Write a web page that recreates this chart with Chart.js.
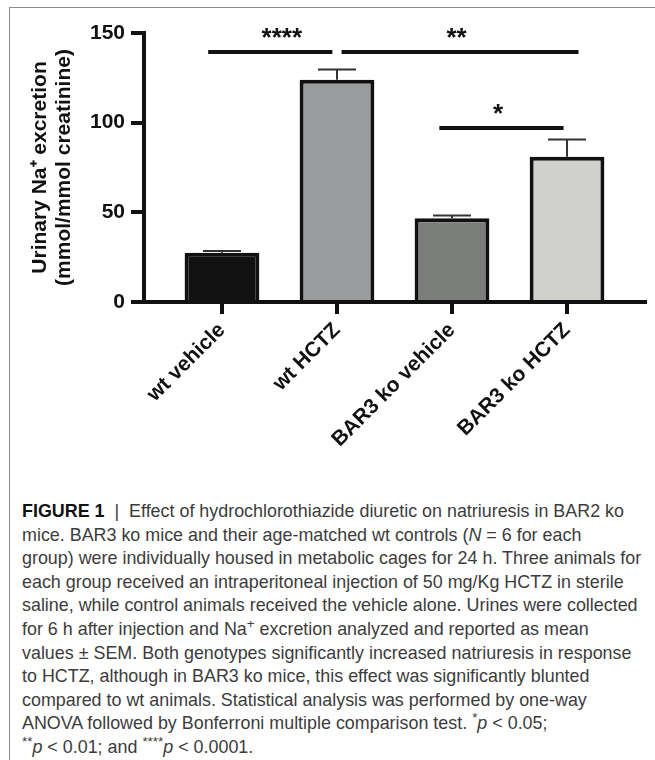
<!DOCTYPE html>
<html>
<head>
<meta charset="utf-8">
<script src="https://cdn.jsdelivr.net/npm/chart.js@4.4.1/dist/chart.umd.min.js"></script>
<style>
  body {
    margin: 0;
    width: 655px;
    height: 760px;
    background: #fff;
    position: relative;
    overflow: hidden;
  }
  .frame {
    position: absolute;
    left: 9px;
    top: 7px;
    right: 0;
    bottom: 0;
    border-left: 1px solid #8a8a8a;
    border-top: 1px solid #8a8a8a;
  }
  .chart-box {
    position: absolute;
    left: 0;
    top: 0;
    width: 655px;
    height: 480px;
  }
  .caption {
    position: absolute;
    left: 22px;
    top: 500px;
    font-family: "Liberation Sans", Arial, sans-serif;
    font-size: 17.9px;
    line-height: 23.6px;
    color: #3c3c3c;
    white-space: nowrap;
  }
  .caption b {
    color: #111;
  }
  .caption sup {
    font-size: 0.75em;
    line-height: 0;
  }
</style>
</head>
<body>
<div class="frame"></div>
<div class="chart-box"><canvas id="natri-chart" width="655" height="480"></canvas></div>
<div class="caption">
<b>FIGURE 1</b> &nbsp;|&nbsp; Effect of hydrochlorothiazide diuretic on natriuresis in BAR2 ko<br>
mice. BAR3 ko mice and their age-matched wt controls (<i>N</i> = 6 for each<br>
group) were individually housed in metabolic cages for 24 h. Three animals for<br>
each group received an intraperitoneal injection of 50 mg/Kg HCTZ in sterile<br>
saline, while control animals received the vehicle alone. Urines were collected<br>
for 6 h after injection and Na<sup>+</sup> excretion analyzed and reported as mean<br>
values ± SEM. Both genotypes significantly increased natriuresis in response<br>
to HCTZ, although in BAR3 ko mice, this effect was significantly blunted<br>
compared to wt animals. Statistical analysis was performed by one-way<br>
ANOVA followed by Bonferroni multiple comparison test. <sup>*</sup><i>p</i> &lt; 0.05;<br>
<sup>**</sup><i>p</i> &lt; 0.01; and <sup>****</sup><i>p</i> &lt; 0.0001.
</div>

<script>
// ================== data ======================
const groups = ["wt vehicle", "wt HCTZ", "BAR3 ko vehicle", "BAR3 ko HCTZ"];
const means = [27.5, 124, 46.7, 81];
const sem = [1, 5.6, 1.6, 9.6];
const barColors = ["#111111", "#9b9c9e", "#7b7d7b", "#d0d1cd"];
const yTicks = [0, 50, 100, 150];

// significance bars: start group, end group, height, label, label position
const sigFrom = [-0.12, 1.04, 1.89];
const sigTo = [0.96, 3.1, 2.97];
const sigY = [139.4, 139.4, 97];
const sigText = ["****", "**", "*"];
const sigTextX = [0.52, 2.04, 2.4];

const canvas = document.getElementById("natri-chart");
const boldFont = "'Liberation Sans', Arial, sans-serif";

// ================== error bars + stars ======================
const extrasPlugin = {
  id: "extras",
  afterDatasetsDraw(chart) {
    const ctx = chart.ctx;
    const xs = chart.scales.x;
    const ys = chart.scales.y;
    ctx.save();
    // SEM whiskers (upper only)
    ctx.strokeStyle = "#333";
    ctx.lineWidth = 2;
    means.forEach((m, i) => {
      const x = xs.getPixelForValue(i);
      const yBar = ys.getPixelForValue(m);
      const yTop = ys.getPixelForValue(m + sem[i]);
      ctx.beginPath();
      ctx.moveTo(x, yBar);
      ctx.lineTo(x, yTop);
      ctx.moveTo(x - 19, yTop);
      ctx.lineTo(x + 19, yTop);
      ctx.stroke();
    });
    // significance lines
    ctx.strokeStyle = "#111";
    ctx.lineWidth = 4;
    ctx.fillStyle = "#111";
    ctx.font = "bold 26px " + boldFont;
    ctx.textAlign = "center";
    ctx.textBaseline = "alphabetic";
    sigY.forEach((v, i) => {
      const y = ys.getPixelForValue(v);
      ctx.beginPath();
      ctx.moveTo(xs.getPixelForValue(sigFrom[i]), y);
      ctx.lineTo(xs.getPixelForValue(sigTo[i]), y);
      ctx.stroke();
      ctx.fillText(sigText[i], xs.getPixelForValue(sigTextX[i]), y - 6);
    });
    ctx.restore();
  },
};

// ================== bar chart ======================
let natriChart = new Chart(canvas, {
  type: "bar",
  data: {
    datasets: [
      {
        data: means.map((m, i) => ({ x: i, y: m })),
        backgroundColor: barColors,
        borderColor: "#111",
        borderWidth: 4,
        borderSkipped: "bottom",
        categoryPercentage: 1,
        barPercentage: 0.65,
      },
    ],
  },
  options: {
    responsive: false,
    animation: false,
    layout: {
      padding: { top: 33, right: 10, left: 0, bottom: 0 },
    },
    plugins: {
      legend: { display: false },
      tooltip: { enabled: false },
    },
    scales: {
      x: {
        type: "linear",
        offset: false,
        min: -0.678,
        max: 3.678,
        afterFit: (scale) => {
          scale.height = 178;
        },
        ticks: {
          stepSize: 1,
          includeBounds: false,
          autoSkip: false,
          maxRotation: 45,
          minRotation: 45,
          padding: 4,
          color: "#111",
          font: { family: boldFont, size: 21, weight: "bold" },
          callback: (v) => groups[v],
        },
        grid: {
          offset: false,
          drawOnChartArea: false,
          drawTicks: true,
          tickLength: 12,
          color: "#111",
          lineWidth: 4,
        },
        border: { display: true, color: "#111", width: 4 },
      },
      y: {
        min: yTicks[0],
        max: yTicks[yTicks.length - 1],
        afterFit: (scale) => {
          scale.width = 144;
        },
        afterBuildTicks: (scale) => {
          scale.ticks = yTicks.map((v) => ({ value: v }));
        },
        ticks: {
          padding: 6,
          color: "#111",
          font: { family: boldFont, size: 21, weight: "bold" },
        },
        grid: {
          drawOnChartArea: false,
          drawTicks: true,
          tickLength: 13,
          color: "#111",
          lineWidth: 4,
        },
        border: { display: true, color: "#111", width: 4 },
        title: {
          display: true,
          text: ["Urinary Na\u207A excretion", "(mmol/mmol creatinine)"],
          color: "#111",
          padding: { top: 28, bottom: 0 },
          font: { family: boldFont, size: 21, weight: "bold", lineHeight: 1.15 },
        },
      },
    },
  },
  plugins: [extrasPlugin],
});
</script>
</body>
</html>
